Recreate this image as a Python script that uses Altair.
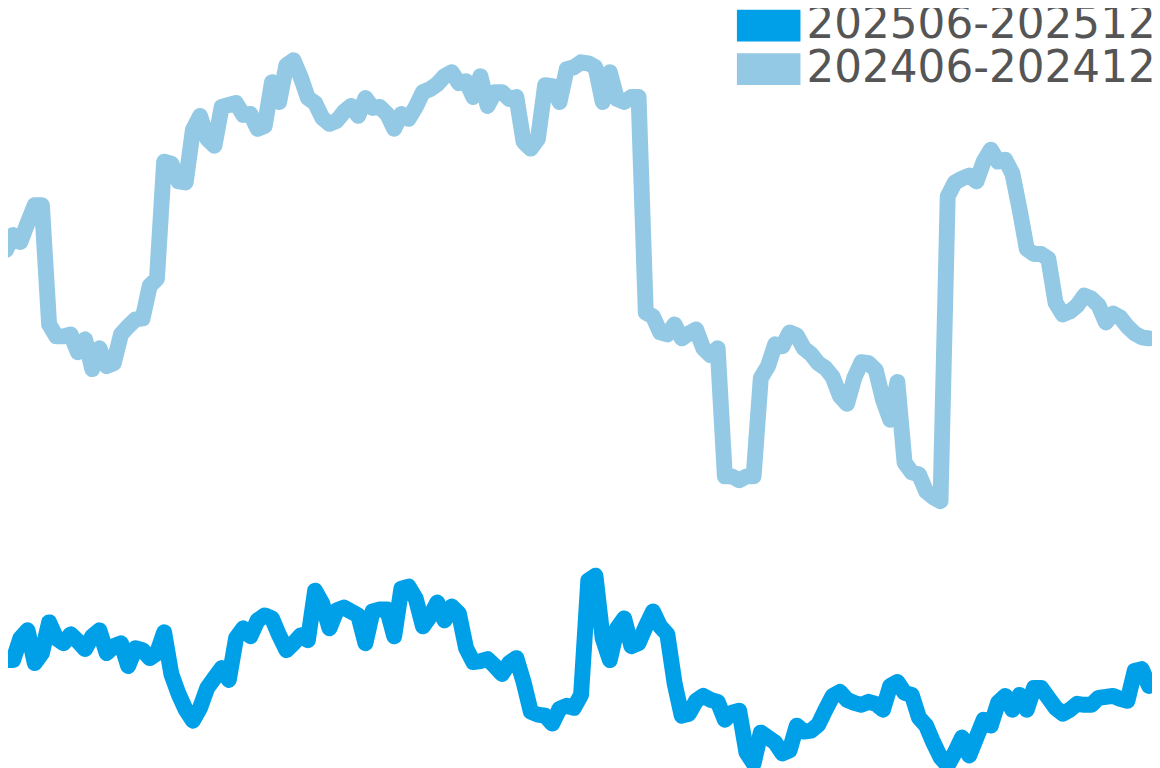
import altair as alt
import pandas as pd

series_names = ["202506-202512", "202406-202412"]
series_colors = ["#00A0E9", "#93C9E4"]

# trading-day index 0..159; values are heights above the chart floor (chart units)
values_2024 = [
    519, 534, 527, 546, 564, 564, 444, 432, 432, 434,
    416, 429, 399, 420, 402, 405, 434, 442, 449, 450,
    483, 490, 608, 606, 588, 587, 640, 654, 631, 624,
    663, 665, 667, 655, 656, 641, 644, 688, 668, 705,
    710, 693, 672, 667, 652, 646, 649, 658, 664, 654,
    672, 662, 663, 656, 641, 656, 651, 663, 678, 681,
    686, 694, 698, 687, 689, 673, 694, 664, 678, 678,
    671, 673, 628, 621, 631, 685, 684, 668, 701, 703,
    708, 707, 703, 668, 698, 671, 668, 673, 673, 456,
    452, 436, 434, 444, 430, 435, 439, 420, 413, 420,
    291, 291, 287, 291, 291, 390, 402, 424, 422, 436,
    433, 420, 414, 405, 400, 391, 372, 364, 390, 406,
    405, 398, 368, 348, 386, 305, 295, 293, 276, 270,
    266, 573, 587, 591, 594, 588, 608, 620, 608, 610,
    596, 560, 520, 515, 515, 510, 466, 454, 457, 463,
    473, 470, 463, 446, 455, 451, 442, 435, 431, 430,
]
values_2025 = [
    106, 106, 128, 136, 103, 113, 144, 128, 123, 132,
    125, 117, 130, 136, 113, 120, 123, 100, 118, 116,
    108, 113, 134, 92, 72, 56, 45, 58, 78, 88,
    98, 86, 128, 138, 130, 146, 151, 148, 131, 116,
    123, 131, 126, 176, 163, 138, 156, 159, 155, 151,
    123, 155, 157, 157, 130, 178, 180, 168, 140, 150,
    164, 146, 160, 153, 118, 104, 105, 107, 100, 92,
    103, 108, 84, 54, 51, 50, 42, 57, 60, 58,
    71, 186, 191, 128, 106, 138, 148, 120, 123, 140,
    155, 140, 132, 83, 50, 52, 65, 70, 66, 64,
    46, 53, 55, 13, 2, 33, 28, 23, 12, 15,
    40, 34, 35, 41, 56, 70, 74, 66, 63, 61,
    64, 62, 56, 80, 84, 73, 71, 48, 40, 23,
    8, 0, 13, 28, 10, 28, 46, 40, 63, 70,
    56, 71, 56, 78, 78, 68, 58, 52, 56, 62,
    61, 61, 68, 69, 70, 67, 65, 95, 97, 80,
]

rows = []
for name, vals in ((series_names[1], values_2024), (series_names[0], values_2025)):
    for i, v in enumerate(vals):
        rows.append({"day": i, "value": v, "period": name})
df = pd.DataFrame(rows)

legend = alt.Legend(
    title=None,
    orient="none",
    legendX=728,
    legendY=-7,
    padding=0,
    symbolType="M-2,-1H2V1H-2Z",
    symbolSize=1024,
    symbolOffset=16,
    symbolStrokeWidth=0,
    symbolOpacity=1,
    labelFont="DejaVu Sans",
    labelFontSize=44,
    labelColor="#555555",
    labelOffset=16,
    rowPadding=0,
    clipHeight=44,
    labelLimit=0,
)

color = alt.Color(
    "period:N",
    scale=alt.Scale(domain=series_names, range=series_colors),
    legend=legend,
)

base = alt.Chart(df).encode(
    x=alt.X("day:Q", scale=alt.Scale(domain=[0.28, 159.42], nice=False, zero=False), axis=None),
    y=alt.Y("value:Q", scale=alt.Scale(domain=[0, 760], nice=False, zero=False), axis=None),
    color=color,
    detail="period:N",
    order="day:Q",
)

lines = base.mark_line(strokeWidth=16, strokeJoin="round", strokeCap="round", clip=False)
swatch = base.mark_point(filled=True, opacity=0, size=1)

chart = (
    alt.layer(lines, swatch)
    .properties(width=1152, height=760, padding=0, autosize=alt.AutoSizeParams(type="none"))
    .configure(background="white", view=alt.ViewConfig(strokeWidth=0, stroke="transparent"))
)

chart.save("out.html", embed_options={"renderer": "svg", "actions": False})
